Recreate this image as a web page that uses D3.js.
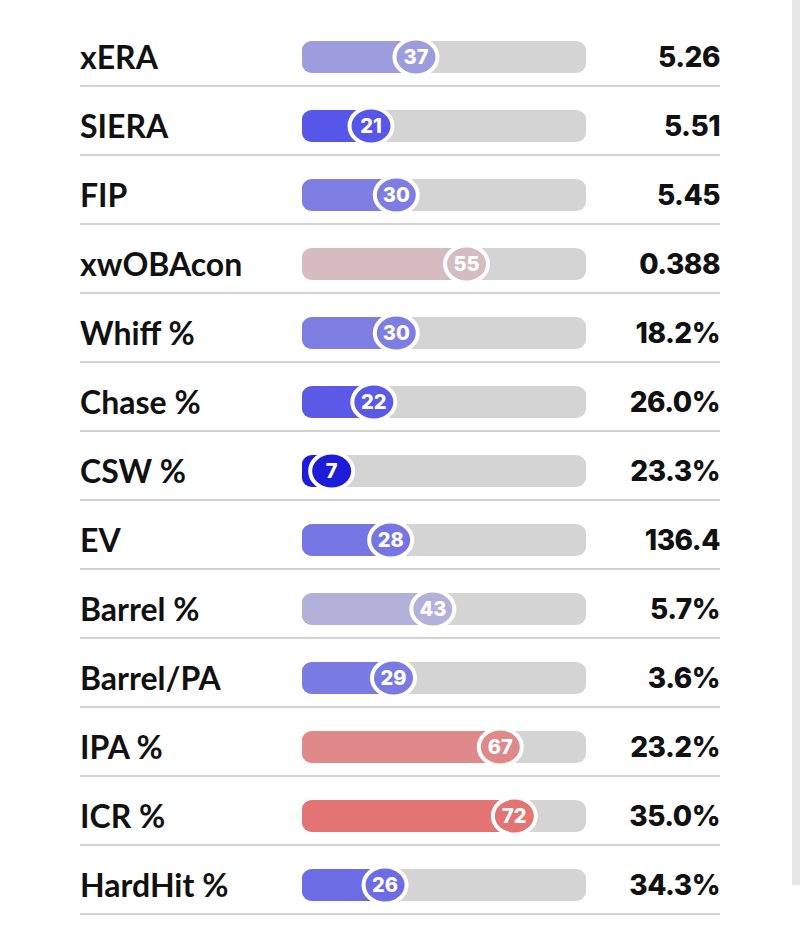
<!DOCTYPE html>
<html>
<head>
<meta charset="utf-8">
<script src="https://cdn.jsdelivr.net/npm/d3@7"></script>
<style>
  body { margin: 0; background: #fff; }
  svg { display: block; }
</style>
</head>
<body>
<svg id="chart" width="800" height="947"></svg>
<script>
const metrics = ["xERA", "SIERA", "FIP", "xwOBAcon", "Whiff %", "Chase %", "CSW %",
  "EV", "Barrel %", "Barrel/PA", "IPA %", "ICR %", "HardHit %"];
const percentiles = [37, 21, 30, 55, 30, 22, 7, 28, 43, 29, 67, 72, 26];
const values = ["5.26", "5.51", "5.45", "0.388", "18.2%", "26.0%", "23.3%",
  "136.4", "5.7%", "3.6%", "23.2%", "35.0%", "34.3%"];

const svg = d3.select("#chart");

const ROW_H = 69;
const TOP = 57;
const TRACK_X0 = 302;
const TRACK_X1 = 586;
const TRACK_H = 32;

// percentile -> circle centre
const x = d3.scaleLinear().domain([0, 100]).range([312, 593]);

const y = d3.scaleBand()
  .domain(d3.range(metrics.length))
  .range([TOP - ROW_H / 2, TOP - ROW_H / 2 + ROW_H * metrics.length]);

const color = d3.scaleLinear()
  .domain([0, 21, 37, 50, 55, 72, 100])
  .range(["#0000d2", "#5656e8", "#9d9ddd", "#cbc9d6", "#d4bcc0", "#e47474", "#ee1010"]);

// grey strip on the right edge
svg.append("rect")
  .attr("x", 792).attr("y", 0)
  .attr("width", 8).attr("height", 885)
  .attr("fill", "#e6e6e6");

const rows = svg.selectAll("g.row")
  .data(metrics)
  .enter()
  .append("g")
  .attr("class", "row")
  .attr("transform", function(d, i) {
    return "translate(0," + (y(i) + y.bandwidth() / 2) + ")";
  });

rows.append("line")
  .attr("x1", 80).attr("x2", 720)
  .attr("y1", 29).attr("y2", 29)
  .attr("stroke", "#d2d2d2")
  .attr("stroke-width", 2);

rows.append("text")
  .text(function(d) { return d; })
  .attr("x", 80)
  .attr("y", 12)
  .attr("font-family", "Lato, sans-serif")
  .attr("font-weight", 700)
  .attr("font-size", 32)
  .attr("fill", "#111");

rows.append("rect")
  .attr("x", TRACK_X0)
  .attr("y", -TRACK_H / 2)
  .attr("width", TRACK_X1 - TRACK_X0)
  .attr("height", TRACK_H)
  .attr("rx", 10).attr("ry", 9)
  .attr("fill", "#d4d4d4");

rows.append("rect")
  .attr("x", TRACK_X0)
  .attr("y", -TRACK_H / 2)
  .attr("width", function(d, i) { return x(percentiles[i]) - TRACK_X0; })
  .attr("height", TRACK_H)
  .attr("rx", 10).attr("ry", 9)
  .attr("fill", function(d, i) { return color(percentiles[i]); });

rows.append("ellipse")
  .attr("cx", function(d, i) { return x(percentiles[i]); })
  .attr("cy", 0)
  .attr("rx", 21.5).attr("ry", 18.5)
  .attr("fill", function(d, i) { return color(percentiles[i]); })
  .attr("stroke", "#fff")
  .attr("stroke-width", 4);

rows.append("text")
  .text(function(d, i) { return percentiles[i]; })
  .attr("x", function(d, i) { return x(percentiles[i]); })
  .attr("y", 7)
  .attr("text-anchor", "middle")
  .attr("font-family", "Inter, sans-serif")
  .attr("font-weight", 800)
  .attr("font-size", 20)
  .attr("fill", "#fff");

rows.append("text")
  .text(function(d, i) { return values[i]; })
  .attr("x", 720)
  .attr("y", 10)
  .attr("text-anchor", "end")
  .attr("font-family", "Inter, sans-serif")
  .attr("font-weight", 800)
  .attr("font-size", 28)
  .attr("letter-spacing", -0.5)
  .attr("fill", "#111");
</script>
</body>
</html>
